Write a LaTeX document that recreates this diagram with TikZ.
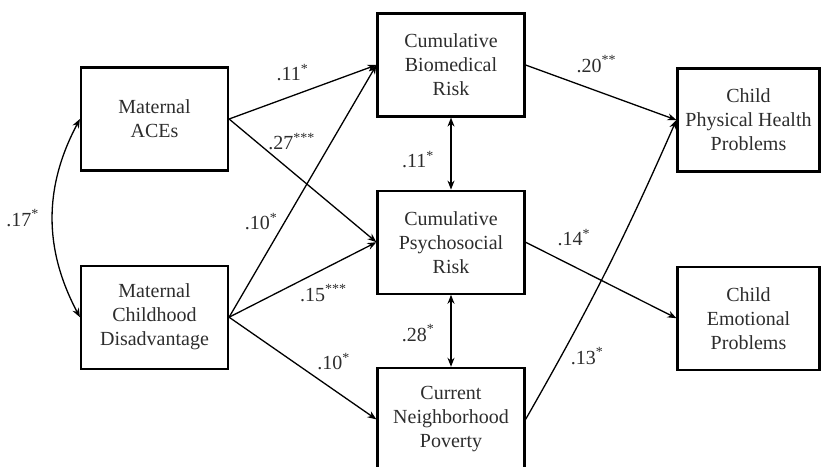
\documentclass[tikz,border=0pt]{standalone}
\usepackage{fontspec}
\setmainfont{Liberation Serif}
\usetikzlibrary{arrows.meta,positioning}
\definecolor{inkgray}{RGB}{45,45,45}
\tikzset{
 varbox/.style={
 rectangle,
 draw=black,
 line width=2.2pt,
 align=center,
 minimum width=147pt,
 minimum height=103pt,
 inner sep=2pt,
 text=inkgray,
 font=\fontsize{20}{24}\selectfont
 },
 outbox/.style={varbox, minimum width=142pt},
 coef/.style={inner sep=0pt, text=inkgray, font=\fontsize{20}{24}\selectfont},
 patharrow/.style={-{Stealth[length=9pt,width=7pt]}, line width=1.3pt},
 corrarrow/.style={{Stealth[length=9pt,width=7pt]}-{Stealth[length=9pt,width=7pt]}, line width=1.3pt}
}

\begin{document}
\begin{tikzpicture}[x=1pt,y=-1pt]
 \useasboundingbox (0,0) rectangle (821,466);
 \clip (0,0) rectangle (821,466);
 % maternal history
 \node[varbox] (aces) at (154.5,119) {Maternal\\ACEs};
 \node[varbox, below=93pt of aces] (disadv) {Maternal\\Childhood\\Disadvantage};
 % mediators
 \node[varbox] (bio) at (451,65) {Cumulative\\Biomedical\\Risk};
 \node[varbox, below=72pt of bio] (psy) {Cumulative\\Psychosocial\\Risk};
 \node[varbox, below=72pt of psy] (pov) {Current\\Neighborhood\\Poverty};
 % child outcomes
 \node[outbox] (phys) at (748.5,120) {Child\\Physical Health\\Problems};
 \node[outbox, below=93pt of phys] (emo) {Child\\Emotional\\Problems};
 \draw[corrarrow] (aces.west) to[bend right=28] node[coef, pos=.5, xshift=-30pt] {.17\textsuperscript{*}} (disadv.west);
 \draw[patharrow] (aces.east) -- node[coef, pos=.43, yshift=23pt] {.11\textsuperscript{*}} (bio.west);
 \draw[patharrow] (aces.east) -- node[coef, pos=.425, yshift=30pt] {.27\textsuperscript{***}} (psy.west);
 \draw[patharrow] (disadv.east) -- node[coef, pos=.38, xshift=-24pt] {.10\textsuperscript{*}} (bio.west);
 \draw[patharrow] (disadv.east) -- node[coef, pos=.64, yshift=-24pt] {.15\textsuperscript{***}} (psy.west);
 \draw[patharrow] (disadv.east) -- node[coef, pos=.71, yshift=28pt] {.10\textsuperscript{*}} (pov.west);
 \draw[corrarrow] (bio.south) -- node[coef, pos=.58, xshift=-33pt] {.11\textsuperscript{*}} (psy.north);
 \draw[corrarrow] (psy.south) -- node[coef, pos=.53, xshift=-33pt] {.28\textsuperscript{*}} (pov.north);
 \draw[patharrow] (bio.east) -- node[coef, pos=.47, yshift=27pt] {.20\textsuperscript{**}} (phys.west);
 \draw[patharrow] (psy.east) -- node[coef, pos=.32, yshift=29pt] {.14\textsuperscript{*}} (emo.west);
 \draw[patharrow] (pov.east) to[bend right=3] node[coef, pos=.2, xshift=26pt] {.13\textsuperscript{*}} (phys.west);
\end{tikzpicture}
\end{document}
